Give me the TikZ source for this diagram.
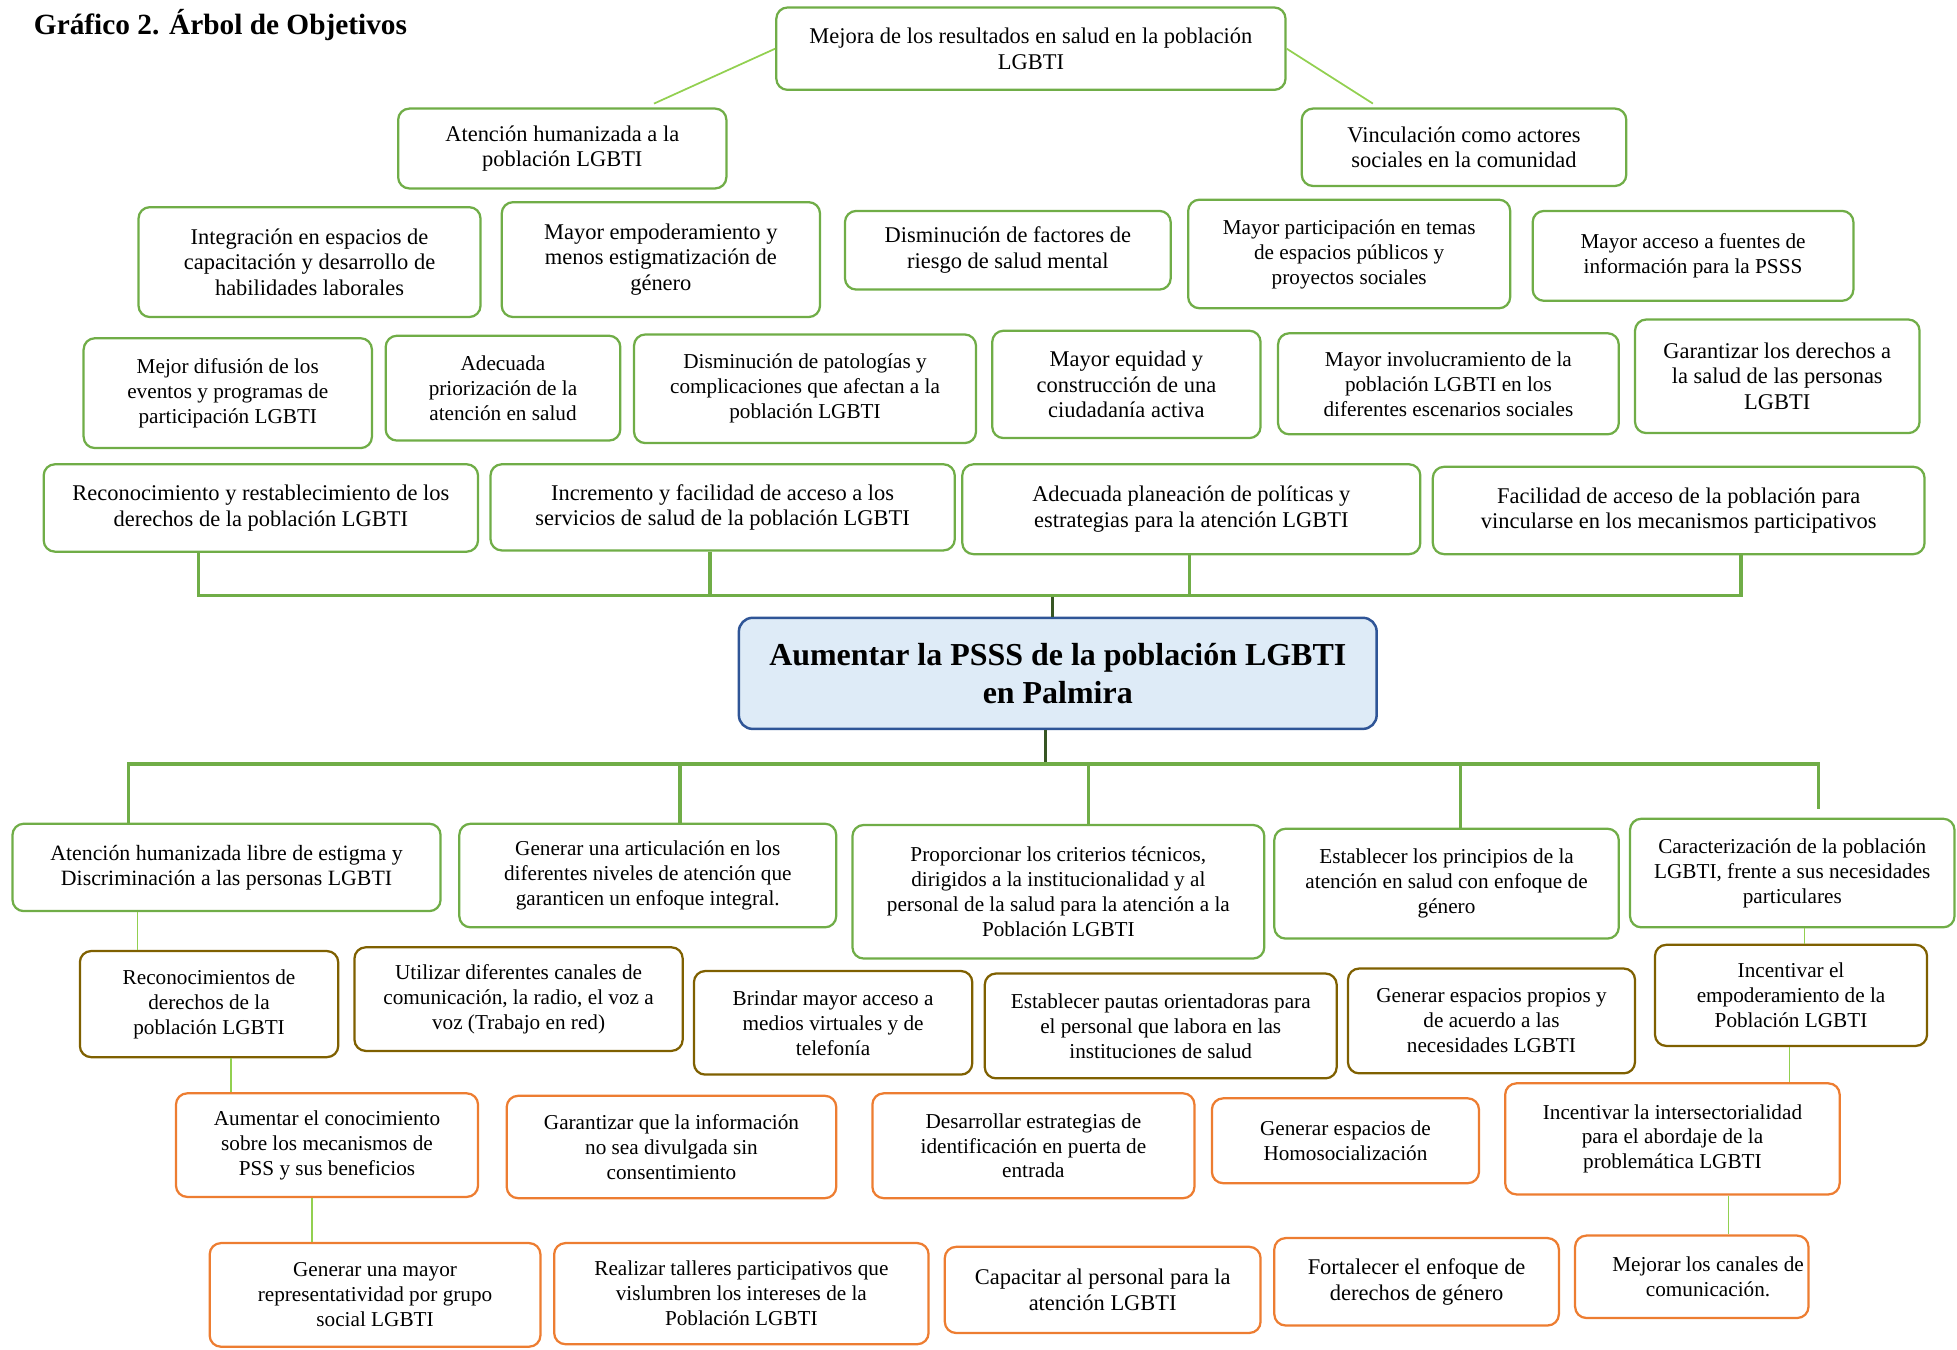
\documentclass[tikz,border=0pt]{standalone}
\usepackage{fontspec}
\setmainfont{Liberation Serif}
\usetikzlibrary{fit}
\definecolor{G}{HTML}{70AD47}
\definecolor{LG}{HTML}{92D050}
\definecolor{BR}{HTML}{7F6000}
\definecolor{OR}{HTML}{ED7D31}
\definecolor{CF}{HTML}{DEEBF7}
\definecolor{CB}{HTML}{2F5597}
\definecolor{DG}{HTML}{375623}
\tikzset{
  base/.style={rounded corners=9pt, align=center, inner sep=0pt, line width=1.8pt, fill=white},
  gbox/.style={base, draw=G},
  bbox/.style={base, draw=BR},
  obox/.style={base, draw=OR},
  big/.style={font=\fontsize{18}{20.5}\selectfont},
  small/.style={font=\fontsize{17}{20}\selectfont},
  cbox/.style={rounded corners=11pt, align=center, inner sep=0pt, line width=2pt, draw=CB, fill=CF, font=\bfseries\fontsize{25.6}{30}\selectfont},
  bracket/.style={draw=G, line width=2.8pt},
  stem/.style={draw=DG, line width=2.4pt},
  thinln/.style={draw=LG, line width=1.1pt},
  topln/.style={draw=LG, line width=1.4pt},
  txt/.style={draw=none, fill=none}
}
% box: style, name, corners, text
\newcommand\bx[4]{%
  \node[#1, fit={#3}] (#2) {};
  \node[#1, txt] (#2t) at (#2.center) {#4};}
\begin{document}
\begin{tikzpicture}[x=1pt,y=-1pt]
\useasboundingbox (0,0) rectangle (1568,1081);
\node[anchor=base west, inner sep=0pt, font=\bfseries\fontsize{23.5}{27}\selectfont] (title) at (27,28) {Gráfico 2. Árbol de Objetivos};

% top
\bx{gbox, big}{t0}{(622,6) (1030,72)}{Mejora de los resultados en salud en la población\\LGBTI}
\bx{gbox, big}{t1a}{(319,87) (582,151)}{Atención humanizada a la\\población LGBTI}
\bx{gbox, big}{t1b}{(1043,87) (1303,149)}{Vinculación como actores\\sociales en la comunidad}

\bx{gbox, big}{t2a}{(111,166) (385,254)}{Integración en espacios de\\capacitación y desarrollo de\\habilidades laborales}
\bx{gbox, big}{t2b}{(402,162) (657,254)}{Mayor empoderamiento y\\menos estigmatización de\\género}
\bx{gbox, big}{t2c}{(677,169) (938,232)}{Disminución de factores de\\riesgo de salud mental}
\bx{gbox, small}{t2d}{(952,160) (1210,247)}{Mayor participación en temas\\de espacios públicos y\\proyectos sociales}
\bx{gbox, small}{t2e}{(1228,169) (1485,241)}{Mayor acceso a fuentes de\\información para la PSSS}

\bx{gbox, small}{t3a}{(67,271) (298,359)}{Mejor difusión de los\\eventos y programas de\\participación LGBTI}
\bx{gbox, small}{t3b}{(309,269) (497,353)}{Adecuada\\priorización de la\\atención en salud}
\bx{gbox, small}{t3c}{(508,268) (782,355)}{Disminución de patologías y\\complicaciones que afectan a la\\población LGBTI}
\bx{gbox, big}{t3d}{(795,265) (1010,351)}{Mayor equidad y\\construcción de una\\ciudadanía activa}
\bx{gbox, small}{t3e}{(1024,267) (1297,348)}{Mayor involucramiento de la\\población LGBTI en los\\diferentes escenarios sociales}
\bx{gbox, big}{t3f}{(1310,256) (1538,347)}{Garantizar los derechos a\\la salud de las personas\\LGBTI}

\bx{gbox, big}{t4a}{(35,372) (383,442)}{Reconocimiento y restablecimiento de los\\derechos de la población LGBTI}
\bx{gbox, big}{t4b}{(393,372) (765,441)}{Incremento y facilidad de acceso a los\\servicios de salud de la población LGBTI}
\bx{gbox, big}{t4c}{(771,372) (1138,444)}{Adecuada planeación de políticas y\\estrategias para la atención LGBTI}
\bx{gbox, big}{t4d}{(1148,374) (1542,444)}{Facilidad de acceso de la población para\\vincularse en los mecanismos participativos}

% center
\node[cbox, fit={(592,495) (1103,584)}] (c) {};
\node[cbox, draw=none, fill=none] (ct) at (c.center) {Aumentar la PSSS de la población LGBTI\\en Palmira};

% bottom
\bx{gbox, font=\fontsize{17.5}{20}\selectfont}{b1a}{(10,660) (353,730)}{Atención humanizada libre de estigma y\\Discriminación a las personas LGBTI}
\bx{gbox, small}{b1b}{(368,660) (670,743)}{Generar una articulación en los\\diferentes niveles de atención que\\garanticen un enfoque integral.}
\bx{gbox, small}{b1c}{(683,661) (1013,768)}{Proporcionar los criterios técnicos,\\dirigidos a la institucionalidad y al\\personal de la salud para la atención a la\\Población LGBTI}
\bx{gbox, small}{b1d}{(1021,664) (1297,752)}{Establecer los principios de la\\atención en salud con enfoque de\\género}
\bx{gbox, small}{b1e}{(1306,656) (1566,743)}{Caracterización de la población\\LGBTI, frente a sus necesidades\\particulares}

\bx{bbox, small}{b2a}{(64,762) (271,847)}{Reconocimientos de\\derechos de la\\población LGBTI}
\bx{bbox, small}{b2b}{(284,759) (547,842)}{Utilizar diferentes canales de\\comunicación, la radio, el voz a\\voz (Trabajo en red)}
\bx{bbox, small}{b2c}{(556,778) (779,861)}{Brindar mayor acceso a\\medios virtuales y de\\telefonía}
\bx{bbox, small}{b2d}{(789,780) (1071,864)}{Establecer pautas orientadoras para\\el personal que labora en las\\instituciones de salud}
\bx{bbox, small}{b2e}{(1080,776) (1310,860)}{Generar espacios propios y\\de acuerdo a las\\necesidades LGBTI}
\bx{bbox, small}{b2f}{(1326,757) (1544,838)}{Incentivar el\\empoderamiento de la\\Población LGBTI}

\bx{obox, small}{b3a}{(141,876) (383,959)}{Aumentar el conocimiento\\sobre los mecanismos de\\PSS y sus beneficios}
\bx{obox, small}{b3b}{(406,878) (670,960)}{Garantizar que la información\\no sea divulgada sin\\consentimiento}
\bx{obox, small}{b3c}{(699,876) (957,960)}{Desarrollar estrategias de\\identificación en puerta de\\entrada}
\bx{obox, small}{b3d}{(971,880) (1185,948)}{Generar espacios de\\Homosocialización}
\bx{obox, small}{b3e}{(1206,868) (1474,957)}{Incentivar la intersectorialidad\\para el abordaje de la\\problemática LGBTI}

\bx{obox, small}{b4a}{(168,996) (433,1079)}{Generar una mayor\\representatividad por grupo\\social LGBTI}
\bx{obox, small}{b4b}{(444,996) (744,1077)}{Realizar talleres participativos que\\vislumbren los intereses de la\\Población LGBTI}
\bx{obox, big}{b4c}{(757,999) (1010,1068)}{Capacitar al personal para la\\atención LGBTI}
\bx{obox, big}{b4d}{(1021,992) (1249,1062)}{Fortalecer el enfoque de\\derechos de género}
\node[obox, small, fit={(1262,990) (1449,1056)}] (b4e) {};
\node[obox, small, txt, xshift=13pt] (b4et) at (b4e.center) {Mejorar los canales de\\comunicación.};

% top connectors
\coordinate (e1) at (524,83);
\coordinate (e2) at (1100,83);
\draw[topln] (t0.west) -- (e1);
\draw[topln] (t0.east) -- (e2);

% upper bracket
\coordinate (ja) at (159,477);
\coordinate (jb) at (569,477);
\coordinate (jc) at (953,477);
\coordinate (jd) at (1395,477);
\coordinate (js) at (843,477);
\draw[stem] (js) -- (js |- c.north);
\draw[bracket] (ja |- t4a.south) -- (ja) -- (jd) -- (jd |- t4d.south);
\draw[bracket] (jb |- t4b.south) -- (jb);
\draw[bracket] (jc |- t4c.south) -- (jc);

% lower bracket
\coordinate (ks) at (838,612);
\coordinate (ka) at (103,612);
\coordinate (kb) at (545,612);
\coordinate (kc) at (872,612);
\coordinate (kd) at (1170,612);
\coordinate (ke) at (1457,612);
\draw[stem] (ks |- c.south) -- (ks);
\draw[bracket] (ka |- b1a.north) -- (ka) -- ([xshift=1pt]ke);
\draw[bracket] (kb) -- (kb |- b1b.north);
\draw[bracket] (kc) -- (kc |- b1c.north);
\draw[bracket] (kd) -- (kd |- b1d.north);
\draw[bracket, shorten >=7pt] (ke) -- (ke |- b1e.north);

% thin connectors
\coordinate (x1) at (110,0);
\coordinate (x2) at (185,0);
\coordinate (x3) at (250,0);
\coordinate (x4) at (1446,0);
\coordinate (x5) at (1434,0);
\coordinate (x6) at (1385,0);
\draw[thinln] (x1 |- b1a.south) -- (x1 |- b2a.north);
\draw[thinln] (x2 |- b2a.south) -- (x2 |- b3a.north);
\draw[thinln] (x3 |- b3a.south) -- (x3 |- b4a.north);
\draw[thinln] (x4 |- b1e.south) -- (x4 |- b2f.north);
\draw[thinln] (x5 |- b2f.south) -- (x5 |- b3e.north);
\draw[thinln] (x6 |- b3e.south) -- (x6 |- b4e.north);
\end{tikzpicture}
\end{document}
